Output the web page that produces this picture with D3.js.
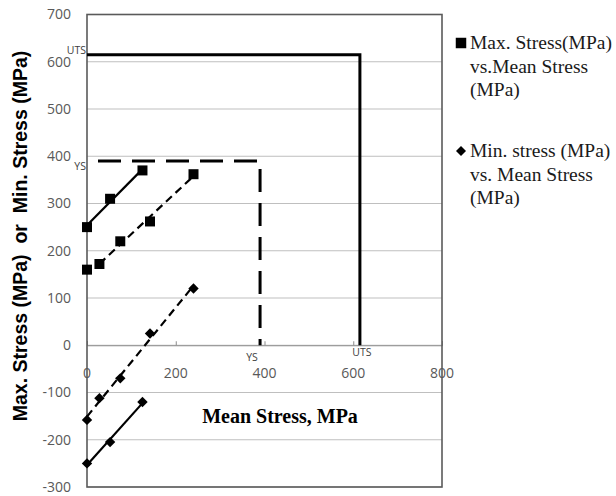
<!DOCTYPE html>
<html>
<head>
<meta charset="utf-8">
<script src="https://cdn.jsdelivr.net/npm/d3@7"></script>
<style>
  html, body { margin: 0; padding: 0; background: #fff; }
  svg { display: block; }
</style>
</head>
<body>
<svg id="chart" width="616" height="496"></svg>
<script>
// Test group A (solid trend lines)
const meanA = [0, 52, 125];
const maxA = [250, 310, 370];
const minA = [-250, -205, -120];

// Test group B (dashed trend lines)
const meanB = [0, 28, 75, 142, 240];
const maxB = [160, 172, 220, 262, 362];
const minB = [-158, -112, -70, 25, 120];

// Material limits, MPa
const UTS = 615;
const YS = 390;

const xTicks = [0, 200, 400, 600, 800];
const yTicks = [-300, -200, -100, 0, 100, 200, 300, 400, 500, 600, 700];

const legendMax = ["Max. Stress(MPa)", "vs.Mean Stress", "(MPa)"];
const legendMin = ["Min. stress (MPa)", "vs. Mean Stress", "(MPa)"];

const svg = d3.select("#chart");
const x = d3.scaleLinear().domain([0, 800]).range([87, 442]);
const y = d3.scaleLinear().domain([-300, 700]).range([487, 14.5]);

const tickColor = "#595959";
const sans = "'Open Sans', 'Noto Sans', sans-serif";
const serif = "'Liberation Serif', 'Times New Roman', serif";

// horizontal gridlines
svg.append("g").selectAll("line").data(yTicks).join("line")
  .attr("x1", x(0)).attr("x2", x(800))
  .attr("y1", d => y(d)).attr("y2", d => y(d))
  .attr("stroke", "#bfbfbf").attr("stroke-width", 1);

// horizontal axis through zero
const xAxis = d3.axisTop(x).tickValues(xTicks).tickSize(4).tickFormat("");
const gx = svg.append("g").attr("transform", `translate(0,${y(0)})`).call(xAxis);
gx.select(".domain").attr("stroke", "#8c8c8c").attr("stroke-width", 1);
gx.selectAll(".tick line").attr("stroke", "#8c8c8c");

svg.append("g").selectAll("text").data(xTicks).join("text")
  .attr("x", d => x(d)).attr("y", y(0) + 33)
  .attr("text-anchor", "middle")
  .attr("font-family", sans).attr("font-size", 14)
  .attr("fill", tickColor).text(d => String(d));

// vertical axis labels (plain hyphen for negatives)
const yAxis = d3.axisLeft(y).tickValues(yTicks).tickSize(0).tickPadding(16)
  .tickFormat(d => String(d));
const gy = svg.append("g").attr("transform", `translate(${x(0)},0)`).call(yAxis);
gy.select(".domain").remove();
gy.selectAll("text").attr("font-family", sans).attr("font-size", 14)
  .attr("fill", tickColor);

// plot frame
svg.append("rect")
  .attr("x", x(0)).attr("y", y(700))
  .attr("width", x(800) - x(0)).attr("height", y(-300) - y(700))
  .attr("fill", "none").attr("stroke", "#5a5a5a").attr("stroke-width", 1.6);

// UTS limit box
svg.append("path")
  .attr("d", d3.line()([[x(0), y(UTS)], [x(UTS), y(UTS)], [x(UTS), y(0)]]))
  .attr("fill", "none").attr("stroke", "#000").attr("stroke-width", 3);

// YS limit box
svg.append("path")
  .attr("d", d3.line()([[x(0), y(YS)], [x(YS), y(YS)], [x(YS), y(0)]]))
  .attr("fill", "none").attr("stroke", "#000").attr("stroke-width", 3)
  .attr("stroke-dasharray", "23,11").attr("stroke-dashoffset", 23);

// limit labels
const limitLabels = [
  { t: "UTS", px: x(0) - 1, py: y(UTS) - 1, a: "end" },
  { t: "YS", px: x(0) - 1, py: y(YS) + 9, a: "end" },
  { t: "YS", px: x(YS) - 8, py: y(0) + 16, a: "middle" },
  { t: "UTS", px: x(UTS) + 2, py: y(0) + 11, a: "middle" }
];
svg.append("g").selectAll("text").data(limitLabels).join("text")
  .attr("x", d => d.px).attr("y", d => d.py)
  .attr("text-anchor", d => d.a)
  .attr("font-family", sans).attr("font-size", 10.5)
  .attr("fill", "#404040").text(d => d.t);

// least-squares fit between the first fitted point and the last point
function fitLine(xs, ys, from) {
  const px = xs.slice(from), py = ys.slice(from);
  const mx = d3.mean(px), my = d3.mean(py);
  const sxy = d3.sum(px, (v, i) => (v - mx) * (py[i] - my));
  const sxx = d3.sum(px, v => (v - mx) * (v - mx));
  const b = sxy / sxx, a = my - b * mx;
  const x0 = d3.min(px), x1 = d3.max(px);
  return [[x(x0), y(a + b * x0)], [x(x1), y(a + b * x1)]];
}

const series = [
  { mean: meanA, stress: maxA, shape: "square", dash: null, from: 0 },
  { mean: meanB, stress: maxB, shape: "square", dash: "8,5", from: 1 },
  { mean: meanB, stress: minB, shape: "diamond", dash: "8,5", from: 0 },
  { mean: meanA, stress: minA, shape: "diamond", dash: null, from: 0 }
];

const squarePath = d3.symbol(d3.symbolSquare, 100);
const diamondPath = "M0,-5.2L5.2,0L0,5.2L-5.2,0Z";

series.forEach(s => {
  svg.append("path")
    .attr("d", d3.line()(fitLine(s.mean, s.stress, s.from)))
    .attr("fill", "none").attr("stroke", "#000").attr("stroke-width", 2.2)
    .attr("stroke-dasharray", s.dash);
  svg.append("g").selectAll("path")
    .data(s.mean.map((m, i) => [m, s.stress[i]]))
    .join("path")
    .attr("transform", d => `translate(${x(d[0])},${y(d[1])})`)
    .attr("d", s.shape === "square" ? squarePath() : diamondPath)
    .attr("fill", "#000");
});

// axis titles
svg.append("text")
  .attr("transform", "translate(27,236) rotate(-90)")
  .attr("text-anchor", "middle")
  .attr("font-family", "'Liberation Sans', Arial, sans-serif")
  .attr("font-weight", "bold").attr("font-size", 19.5)
  .attr("fill", "#000")
  .style("white-space", "pre")
  .text("Max. Stress (MPa)  or  Min. Stress (MPa)");

svg.append("text")
  .attr("x", 280).attr("y", 423)
  .attr("text-anchor", "middle")
  .attr("font-family", serif).attr("font-weight", "bold").attr("font-size", 20)
  .attr("fill", "#000").text("Mean Stress, MPa");

// legend
const legend = [
  { shape: "square", lines: legendMax, top: 49 },
  { shape: "diamond", lines: legendMin, top: 157 }
];
legend.forEach(l => {
  svg.append("path")
    .attr("transform", `translate(461,${l.top - 6})`)
    .attr("d", l.shape === "square" ? d3.symbol(d3.symbolSquare, 110)() : "M0,-5L5,0L0,5L-5,0Z")
    .attr("fill", "#000");
  svg.append("g").selectAll("text").data(l.lines).join("text")
    .attr("x", 470).attr("y", (d, i) => l.top + i * 23.5)
    .attr("font-family", serif).attr("font-size", 19.5)
    .attr("fill", "#1a1a1a").text(d => d);
});
</script>
</body>
</html>
